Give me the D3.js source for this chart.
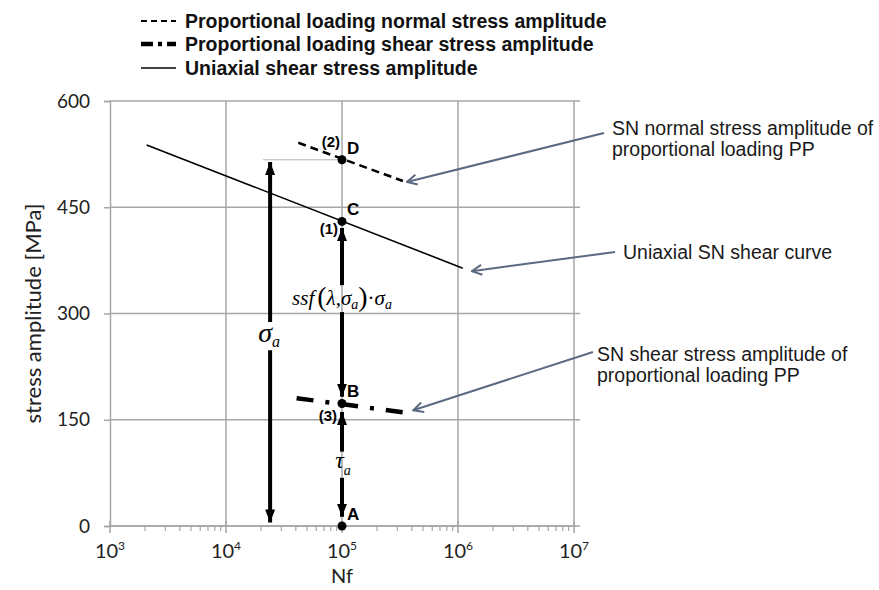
<!DOCTYPE html>
<html><head><meta charset="utf-8">
<script src="https://cdn.jsdelivr.net/npm/d3@7"></script>
<style>body{margin:0;background:#fff}</style>
</head><body>
<svg id="chart" width="879" height="590"></svg>
<script>
// ---------------- data ----------------
const xTickValues = [1e3, 1e4, 1e5, 1e6, 1e7];
const xTickExponents = ["3", "4", "5", "6", "7"];
const yTickValues = [0, 150, 300, 450, 600];
const xTitle = "Nf";
const yTitle = "stress amplitude [MPa]";
const legendLabels = [
  "Proportional loading normal stress amplitude",
  "Proportional loading shear stress amplitude",
  "Uniaxial shear stress amplitude"
];
const uniaxialShearN = [2070, 1.1e6];
const uniaxialShearS = [538, 364];
const normalPPN = [42000, 335000];
const normalPPS = [541, 487];
const shearPPN = [40600, 337000];
const shearPPS = [180.5, 160.5];
const pointNames = ["A", "B", "C", "D"];
const pointN = [1e5, 1e5, 1e5, 1e5];
const pointS = [0, 173, 430, 517];
const stepNames = ["(3)", "(1)", "(2)"];
const stepAt = [1, 2, 3];               // index into points
const arrowN = [2.4e4, 1e5, 1e5];        // sigma_a, ssf, tau_a
const arrowLow = [5, 182.5, 13];
const arrowHigh = [514, 420.7, 161];
const arrowGapLow = [248, 302, 68];
const arrowGapHigh = [288, 340, 105];
const noteTexts = [
  ["SN normal stress amplitude of", "proportional loading PP"],
  ["Uniaxial SN shear curve"],
  ["SN shear stress amplitude of", "proportional loading PP"]
];

// ---------------- layout ----------------
const svg = d3.select("#chart");
const x = d3.scaleLog().domain([1e3, 1e7]).range([110, 574]);
const y = d3.scaleLinear().domain([0, 600]).range([526, 101]);
const gridRight = 580;
const gridColor = "#a6a6a6";
const axisFont = "Lato, 'Open Sans', sans-serif";
const textFont = "'Liberation Sans', Arial, sans-serif";
const serif = "'Liberation Serif', 'Times New Roman', serif";

// gridlines
svg.append("g").selectAll("line").data(yTickValues).join("line")
  .attr("x1", x(1e3)).attr("x2", gridRight)
  .attr("y1", d => y(d)).attr("y2", d => y(d))
  .attr("stroke", gridColor).attr("stroke-width", 1.5);
svg.append("g").selectAll("line").data(xTickValues.slice(1)).join("line")
  .attr("x1", d => x(d)).attr("x2", d => x(d))
  .attr("y1", y(0)).attr("y2", y(600))
  .attr("stroke", gridColor).attr("stroke-width", 1.5);

// y axis
const yAxis = svg.append("g").attr("transform", `translate(${x(1e3)},0)`)
  .call(d3.axisLeft(y).tickValues(yTickValues).tickSize(6).tickPadding(14));
yAxis.select(".domain").attr("stroke", gridColor).attr("stroke-width", 1.5);
yAxis.selectAll(".tick line").attr("stroke", gridColor).attr("stroke-width", 1.5);
yAxis.selectAll(".tick text").attr("font-family", axisFont).attr("font-size", 19)
  .attr("fill", "#222");

// x axis
const minorTicks = [];
for (let e = 3; e < 7; e++) for (let m = 2; m <= 9; m++) minorTicks.push(m * Math.pow(10, e));
const xAxisG = svg.append("g").attr("transform", `translate(0,${y(0)})`);
xAxisG.append("line").attr("x1", x(1e3)).attr("x2", x(1e7) + 2)
  .attr("stroke", gridColor).attr("stroke-width", 1.5);
xAxisG.selectAll("line.minor").data(minorTicks).join("line").attr("class", "minor")
  .attr("x1", d => x(d)).attr("x2", d => x(d)).attr("y1", 0).attr("y2", 5)
  .attr("stroke", gridColor).attr("stroke-width", 1.2);
xAxisG.selectAll("line.major").data(xTickValues).join("line").attr("class", "major")
  .attr("x1", d => x(d)).attr("x2", d => x(d)).attr("y1", -5).attr("y2", 7)
  .attr("stroke", gridColor).attr("stroke-width", 1.5);
const xl = xAxisG.selectAll("text.tl").data(xTickValues).join("text").attr("class", "tl")
  .attr("x", d => x(d)).attr("y", 32).attr("text-anchor", "middle")
  .attr("font-family", axisFont).attr("font-size", 20).attr("fill", "#222");
xl.append("tspan").text("10");
xl.append("tspan").attr("font-size", 12).attr("dy", -8).text((d, i) => xTickExponents[i]);

// axis titles
svg.append("text").attr("x", (x(1e3) + x(1e7)) / 2).attr("y", 583).attr("text-anchor", "middle")
  .attr("font-family", axisFont).attr("font-size", 20).attr("fill", "#222").text(xTitle);
svg.append("text").attr("transform", `translate(41,${(y(0) + y(600)) / 2}) rotate(-90)`)
  .attr("text-anchor", "middle").attr("font-family", axisFont).attr("font-size", 22)
  .attr("fill", "#222").text(yTitle);

// series
const line = d3.line().x(d => x(d[0])).y(d => y(d[1]));
const zip = (a, b) => a.map((v, i) => [v, b[i]]);
svg.append("path").attr("d", line(zip(uniaxialShearN, uniaxialShearS)))
  .attr("fill", "none").attr("stroke", "#000").attr("stroke-width", 1.6);
svg.append("path").attr("d", line(zip(normalPPN, normalPPS)))
  .attr("fill", "none").attr("stroke", "#000").attr("stroke-width", 2.5)
  .attr("stroke-dasharray", "8 5");
svg.append("path").attr("d", line(zip(shearPPN, shearPPS)))
  .attr("fill", "none").attr("stroke", "#000").attr("stroke-width", 4.5)
  .attr("stroke-dasharray", "17 12 4 12");

// helper thin line from sigma_a arrow top to D
svg.append("line").attr("x1", x(arrowN[0]) - 7).attr("x2", x(pointN[3]))
  .attr("y1", y(pointS[3])).attr("y2", y(pointS[3]))
  .attr("stroke", "#b4b4b4").attr("stroke-width", 1);

// black double arrows
const defs = svg.append("defs");
defs.append("marker").attr("id", "ah").attr("viewBox", "0 0 13 10")
  .attr("refX", 13).attr("refY", 5).attr("markerWidth", 13).attr("markerHeight", 10)
  .attr("markerUnits", "userSpaceOnUse").attr("orient", "auto")
  .append("path").attr("d", "M0,0 L13,5 L0,10 Z").attr("fill", "#000");
arrowN.forEach((n, i) => {
  const xx = x(n);
  svg.append("line").attr("x1", xx).attr("x2", xx)
    .attr("y1", y(arrowGapHigh[i])).attr("y2", y(arrowHigh[i]))
    .attr("stroke", "#000").attr("stroke-width", 4).attr("marker-end", "url(#ah)");
  svg.append("line").attr("x1", xx).attr("x2", xx)
    .attr("y1", y(arrowGapLow[i])).attr("y2", y(arrowLow[i]))
    .attr("stroke", "#000").attr("stroke-width", 4).attr("marker-end", "url(#ah)");
});

// math labels
function mathText(cx, cy, parts, anchor) {
  const t = svg.append("text").attr("x", cx).attr("y", cy).attr("text-anchor", anchor || "middle")
    .attr("font-family", serif).attr("fill", "#000");
  parts.forEach(p => {
    t.append("tspan").attr("font-size", p.s).attr("font-style", p.i ? "italic" : "normal")
      .attr("dy", p.dy || 0).attr("dx", p.dx || 0).text(p.t);
  });
  return t;
}
// sigma_a
mathText(x(arrowN[0]) - 1, (y(arrowGapLow[0]) + y(arrowGapHigh[0])) / 2 + 6, [
  { t: "σ", s: 28, i: true }, { t: "a", s: 16, i: true, dy: 5 }
]);
// tau_a
mathText(x(arrowN[2]) + 1, (y(arrowGapLow[2]) + y(arrowGapHigh[2])) / 2 + 3, [
  { t: "τ", s: 24, i: true }, { t: "a", s: 14, i: true, dy: 7 }
]);
// ssf(lambda, sigma_a) . sigma_a
mathText(x(arrowN[1]), (y(arrowGapLow[1]) + y(arrowGapHigh[1])) / 2 + 6, [
  { t: "ssf", s: 21, i: true }, { t: "(", s: 28, dx: 3, dy: 1 }, { t: "λ", s: 21, i: true, dy: -1 },
  { t: ",", s: 21 }, { t: "σ", s: 21, i: true }, { t: "a", s: 14, i: true, dy: 4 },
  { t: ")", s: 28, dy: -3 }, { t: "·", s: 21, dy: -1 }, { t: "σ", s: 21, i: true },
  { t: "a", s: 14, i: true, dy: 4 }
]);

// points
svg.append("g").selectAll("circle").data(pointN).join("circle")
  .attr("cx", d => x(d)).attr("cy", (d, i) => y(pointS[i])).attr("r", 4.5).attr("fill", "#000");
svg.append("g").selectAll("text").data(pointNames).join("text")
  .attr("x", (d, i) => x(pointN[i]) + 5).attr("y", (d, i) => y(pointS[i]) - 6)
  .attr("font-family", textFont).attr("font-weight", "bold").attr("font-size", 17)
  .text(d => d);
const stepDx = [-5, -4, -2], stepDy = [18, 13, -13];
svg.append("g").selectAll("text").data(stepNames).join("text")
  .attr("x", (d, i) => x(pointN[stepAt[i]]) + stepDx[i])
  .attr("y", (d, i) => y(pointS[stepAt[i]]) + stepDy[i])
  .attr("text-anchor", "end")
  .attr("font-family", textFont).attr("font-weight", "bold").attr("font-size", 15)
  .text(d => d);

// legend
const legY = [21, 44, 68];
const lg = svg.append("g");
legendLabels.forEach((lab, i) => {
  const l = lg.append("line").attr("x1", 141).attr("x2", 176).attr("y1", legY[i]).attr("y2", legY[i])
    .attr("stroke", "#000");
  if (i === 0) l.attr("stroke-width", 2.2).attr("stroke-dasharray", "6 4");
  if (i === 1) l.attr("stroke-width", 4.5).attr("stroke-dasharray", "12 5 4 5");
  if (i === 2) l.attr("stroke-width", 1.6);
  lg.append("text").attr("x", 185).attr("y", legY[i] + 7).attr("font-family", textFont)
    .attr("font-weight", "bold").attr("font-size", 19.5).attr("fill", "#111").text(lab);
});

// annotations
const noteColor = "#5a6a80";
defs.append("marker").attr("id", "oh").attr("viewBox", "0 0 12 12")
  .attr("refX", 11).attr("refY", 6).attr("markerWidth", 12).attr("markerHeight", 12)
  .attr("markerUnits", "userSpaceOnUse").attr("orient", "auto")
  .append("path").attr("d", "M1,1 L11,6 L1,11").attr("fill", "none")
  .attr("stroke", noteColor).attr("stroke-width", 2);
const noteTipBase = [
  [normalPPN[1], normalPPS[1]],
  [uniaxialShearN[1], uniaxialShearS[1]],
  [shearPPN[1], shearPPS[1]]
];
const noteTipOff = [[4, 1], [9, 3], [10, -2]];
const noteTail = [[604, 133], [615, 252], [593, 352]];
const noteTextPos = [[612, 135], [623, 259], [597, 361]];
noteTexts.forEach((lines, i) => {
  svg.append("line").attr("x1", noteTail[i][0]).attr("y1", noteTail[i][1])
    .attr("x2", x(noteTipBase[i][0]) + noteTipOff[i][0]).attr("y2", y(noteTipBase[i][1]) + noteTipOff[i][1])
    .attr("stroke", noteColor).attr("stroke-width", 2).attr("marker-end", "url(#oh)");
  const t = svg.append("text").attr("x", noteTextPos[i][0]).attr("y", noteTextPos[i][1])
    .attr("font-family", textFont).attr("font-size", 19.5).attr("fill", "#1a1a1a");
  lines.forEach((s, j) => t.append("tspan").attr("x", noteTextPos[i][0]).attr("dy", j ? 21 : 0).text(s));
});
</script>
</body></html>
